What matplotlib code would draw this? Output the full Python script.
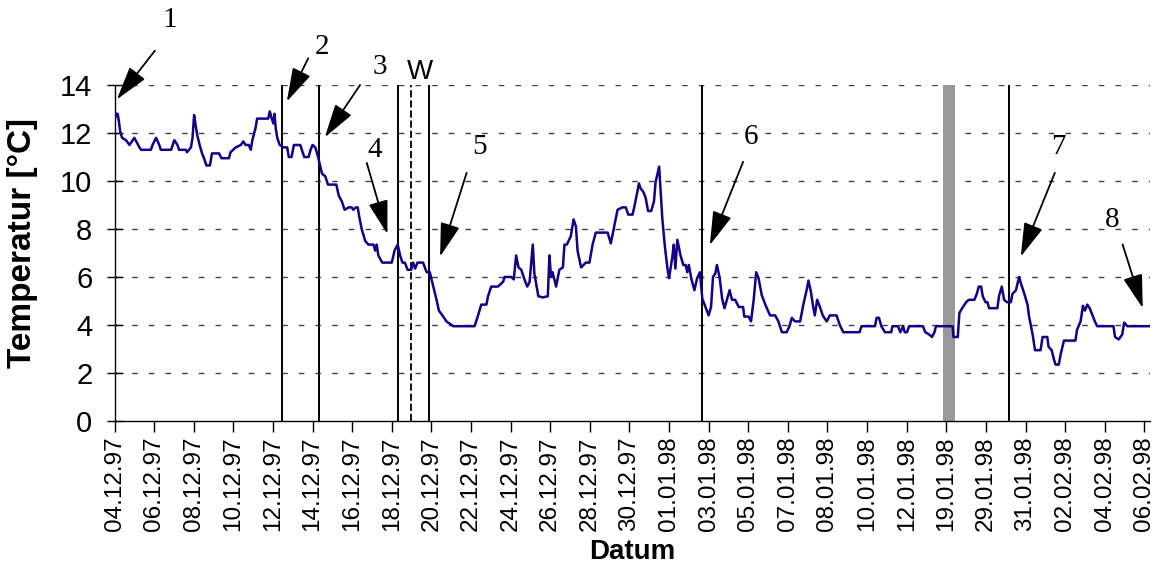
import matplotlib
matplotlib.use('Agg')
import matplotlib.pyplot as plt

# dates on the (categorical) x axis
dates = ['04.12.97', '06.12.97', '08.12.97', '10.12.97', '12.12.97', '14.12.97',
         '16.12.97', '18.12.97', '20.12.97', '22.12.97', '24.12.97', '26.12.97',
         '28.12.97', '30.12.97', '01.01.98', '03.01.98', '05.01.98', '07.01.98',
         '08.01.98', '10.01.98', '12.01.98', '19.01.98', '29.01.98', '31.01.98',
         '02.02.98', '04.02.98', '06.02.98']

# position along the date axis (tick units) and temperature in degC
pos = [0.00, 0.04, 0.08, 0.11, 0.14, 0.19, 0.29, 0.38, 0.50, 0.63, 0.67, 0.92, 0.96,
       1.05, 1.13, 1.17, 1.43, 1.47, 1.51, 1.59, 1.63, 1.80, 1.83, 1.93, 1.97, 2.01,
       2.05, 2.09, 2.15, 2.21, 2.26, 2.32, 2.41, 2.46, 2.64, 2.70, 2.89, 2.93, 3.06,
       3.19, 3.25, 3.31, 3.39, 3.44, 3.48, 3.56, 3.60, 3.88, 3.92, 3.97, 4.01, 4.04,
       4.07, 4.11, 4.17, 4.27, 4.36, 4.40, 4.47, 4.53, 4.69, 4.73, 4.79, 4.90, 4.95,
       5.00, 5.07, 5.14, 5.24, 5.32, 5.39, 5.60, 5.66, 5.74, 5.81, 5.91, 5.99, 6.03,
       6.09, 6.14, 6.18, 6.24, 6.33, 6.41, 6.54, 6.58, 6.62, 6.66, 6.76, 7.00, 7.07,
       7.15, 7.21, 7.27, 7.33, 7.40, 7.49, 7.54, 7.59, 7.65, 7.79, 7.88, 7.96, 8.05,
       8.13, 8.19, 8.30, 8.38, 8.55, 9.09, 9.16, 9.26, 9.39, 9.43, 9.51, 9.68, 9.81,
       9.85, 10.02, 10.08, 10.14, 10.20, 10.27, 10.35, 10.42, 10.48, 10.56, 10.60,
       10.70, 10.81, 10.94, 10.98, 11.02, 11.06, 11.15, 11.23, 11.32, 11.36, 11.42,
       11.52, 11.59, 11.65, 11.69, 11.78, 11.90, 11.99, 12.07, 12.15, 12.45, 12.53,
       12.62, 12.70, 12.82, 12.91, 12.97, 13.08, 13.12, 13.20, 13.24, 13.28, 13.35,
       13.41, 13.47, 13.55, 13.62, 13.66, 13.75, 13.79, 13.83, 13.89, 13.96, 14.00,
       14.08, 14.12, 14.16, 14.21, 14.29, 14.36, 14.42, 14.46, 14.50, 14.56, 14.64,
       14.71, 14.78, 14.84, 14.92, 15.00, 15.06, 15.11, 15.17, 15.21, 15.28, 15.34,
       15.40, 15.47, 15.53, 15.59, 15.67, 15.76, 15.87, 15.90, 16.01, 16.07, 16.14,
       16.20, 16.26, 16.34, 16.43, 16.55, 16.68, 16.76, 16.85, 16.97, 17.04, 17.10,
       17.18, 17.31, 17.39, 17.48, 17.52, 17.58, 17.63, 17.68, 17.74, 17.81, 17.88,
       17.98, 18.06, 18.23, 18.31, 18.40, 18.81, 18.86, 19.20, 19.24, 19.30, 19.36,
       19.45, 19.61, 19.64, 19.78, 19.84, 19.91, 19.95, 20.01, 20.06, 20.41, 20.47,
       20.57, 20.64, 20.70, 20.74, 21.16, 21.18, 21.29, 21.33, 21.40, 21.50, 21.57,
       21.71, 21.77, 21.82, 21.88, 21.92, 21.99, 22.04, 22.08, 22.29, 22.33, 22.40,
       22.46, 22.53, 22.63, 22.67, 22.76, 22.80, 22.84, 22.88, 22.97, 23.05, 23.09,
       23.18, 23.24, 23.38, 23.43, 23.55, 23.58, 23.66, 23.72, 23.76, 23.84, 23.89,
       23.97, 24.26, 24.30, 24.39, 24.45, 24.50, 24.56, 24.62, 24.69, 24.75, 24.81,
       25.22, 25.26, 25.35, 25.44, 25.49, 25.57, 26.13]

temp = [12.5, 12.8, 12.8, 12.5, 12.1, 11.8, 11.7, 11.5, 11.8, 11.4, 11.3, 11.3, 11.5,
        11.8, 11.5, 11.3, 11.3, 11.5, 11.7, 11.5, 11.3, 11.3, 11.2, 11.4, 11.8, 12.75,
        12.3, 11.9, 11.5, 11.15, 10.95, 10.65, 10.65, 11.15, 11.15, 10.95, 10.95, 11.2, 11.4,
        11.5, 11.65, 11.5, 11.5, 11.3, 11.7, 12.2, 12.6, 12.6, 12.9, 12.6, 12.4, 12.8,
        12.2, 11.8, 11.5, 11.4, 11.4, 11.0, 11.0, 11.5, 11.5, 11.3, 11.0, 11.0, 11.3,
        11.5, 11.4, 11.0, 10.3, 10.2, 9.85, 9.85, 9.4, 9.15, 8.8, 8.9, 8.9, 8.8,
        8.9, 8.9, 8.5, 8.0, 7.5, 7.35, 7.35, 7.1, 7.35, 6.9, 6.6, 6.6, 7.1,
        7.35, 6.9, 6.6, 6.6, 6.3, 6.3, 6.6, 6.35, 6.6, 6.6, 6.2, 6.2, 5.6,
        5.05, 4.6, 4.35, 4.15, 3.95, 3.95, 4.3, 4.85, 4.85, 5.2, 5.6, 5.6, 5.8,
        6.0, 6.0, 5.9, 6.9, 6.4, 6.3, 5.9, 5.6, 5.8, 7.35, 6.15,
        5.2, 5.15, 5.2, 6.9, 6.0, 6.2, 5.6, 6.3, 6.4, 7.35, 7.35,
        7.7, 8.4, 8.1, 7.1, 6.4, 6.6, 6.6, 7.35, 7.85, 7.85, 7.4,
        8.15, 8.8, 8.9, 8.9, 8.6, 8.6, 8.9, 9.55, 9.9, 9.7, 9.55,
        9.3, 8.75, 8.75, 9.15, 9.95, 10.6, 9.55, 8.45, 7.35, 6.35, 5.95,
        6.8, 7.35, 6.35, 7.55, 6.9, 6.5, 6.5, 6.2, 6.5, 5.95, 5.45,
        5.95, 6.2, 5.1, 4.75, 4.4, 4.75, 6.0, 6.15, 6.5, 5.95, 5.1,
        4.7, 5.1, 5.45, 5.05, 5.05, 4.75, 4.75, 4.35, 4.35, 4.15, 5.1,
        6.2, 5.95, 5.25, 4.85, 4.4, 4.4, 4.15, 3.7, 3.7, 3.95, 4.3,
        4.15, 4.15, 4.85, 5.5, 5.85, 5.4, 4.85, 4.4, 5.05, 4.75, 4.4,
        4.15, 4.4, 4.4, 4.0, 3.7, 3.7, 3.95, 3.95, 4.3, 4.3, 3.95,
        3.7, 3.7, 3.95, 3.95, 3.7, 3.95, 3.7, 3.7, 3.95, 3.95, 3.7,
        3.6, 3.5, 3.7, 3.95, 3.95, 3.5, 3.5, 4.5, 4.7, 4.95, 5.05,
        5.05, 5.3, 5.6, 5.6, 5.2, 4.95, 4.95, 4.7, 4.7, 5.2, 5.6,
        5.05, 4.95, 4.95, 5.3, 5.45, 5.75, 6.0, 5.75, 5.3, 4.85, 4.35,
        3.6, 2.95, 2.95, 3.5, 3.5, 3.1, 2.95, 2.55, 2.35, 2.35, 2.8,
        3.35, 3.35, 3.8, 4.15, 4.8, 4.6, 4.85, 4.7, 4.4, 4.15, 3.95,
        3.95, 3.5, 3.4, 3.6, 4.1, 3.95, 3.95]

# event markers (vertical lines) on the date axis
event_lines = [4.22, 5.16, 7.15, 7.95, 14.83, 22.58]
window_line = 7.49
gap_span = (20.92, 21.22)

# numbered arrows: label, label position, arrow tail, arrow tip
labels = ['1', '2', '3', '4', '5', '6', '7', '8']
label_xy = [(1.40, 16.7), (5.23, 15.6), (6.70, 14.76), (6.58, 11.29),
            (9.21, 11.43), (16.07, 11.85), (23.83, 11.43), (25.20, 8.38)]
tail_xy = [(1.02, 15.43), (4.89, 15.11), (6.20, 14.00), (6.37, 10.75),
           (8.89, 10.34), (15.87, 10.80), (23.74, 10.34), (25.45, 7.36)]
tip_xy = [(0.06, 13.40), (4.35, 13.31), (5.31, 11.82), (6.89, 7.79),
          (8.22, 6.85), (15.03, 7.33), (22.88, 6.85), (25.96, 4.70)]

plt.rcParams['font.family'] = ['Liberation Sans', 'DejaVu Sans']

fig = plt.figure(figsize=(11.54, 5.64), dpi=100)
ax = fig.add_axes([114.5 / 1154, 1 - 421 / 564, 1035 / 1154, 336 / 564])

for y in range(2, 15, 2):
    ax.axhline(y, color='#404040', lw=1.0, ls=(0, (4, 8)), zorder=1)

ax.axvspan(*gap_span, color='#999999', lw=0, zorder=2)
for x in event_lines:
    ax.axvline(x, color='black', lw=1.4, zorder=3)
ax.axvline(window_line, color='black', lw=1.3, ls=(0, (4, 1.6)), zorder=3)

ax.plot(pos, temp, color='#14008a', lw=1.8, zorder=4)

for lab, lxy, txy, hxy in zip(labels, label_xy, tail_xy, tip_xy):
    ax.text(lxy[0], lxy[1], lab, family='Liberation Serif', fontsize=21,
            ha='center', va='center', clip_on=False)
    ax.annotate('', xy=hxy, xytext=txy, annotation_clip=False,
                arrowprops=dict(arrowstyle='-|>,head_length=1.1,head_width=0.32',
                                mutation_scale=19, lw=1.3, color='black',
                                shrinkA=0, shrinkB=0))
ax.text(7.72, 14.54, 'W', fontsize=20, ha='center', va='center', clip_on=False)

ax.set_xlim(0, 26.13)
ax.set_ylim(0, 14)
ax.set_xticks(range(len(dates)))
ax.set_xticklabels(dates, rotation=90, fontsize=17.5)
ax.set_yticks(range(0, 15, 2))
ax.tick_params(axis='y', direction='inout', length=12, width=1, labelsize=21, pad=10)
ax.tick_params(axis='x', direction='out', length=8, width=1, pad=3)

for side in ['top', 'right']:
    ax.spines[side].set_visible(False)
for side in ['left', 'bottom']:
    ax.spines[side].set_linewidth(1.0)

ax.set_xlabel('Datum', fontsize=20, fontweight='bold', labelpad=6)
ax.set_ylabel('Temperatur [°C]', fontsize=24, fontweight='bold')
ax.yaxis.set_label_coords(-0.074, 0.53)

fig.savefig('out.png', dpi=100)
